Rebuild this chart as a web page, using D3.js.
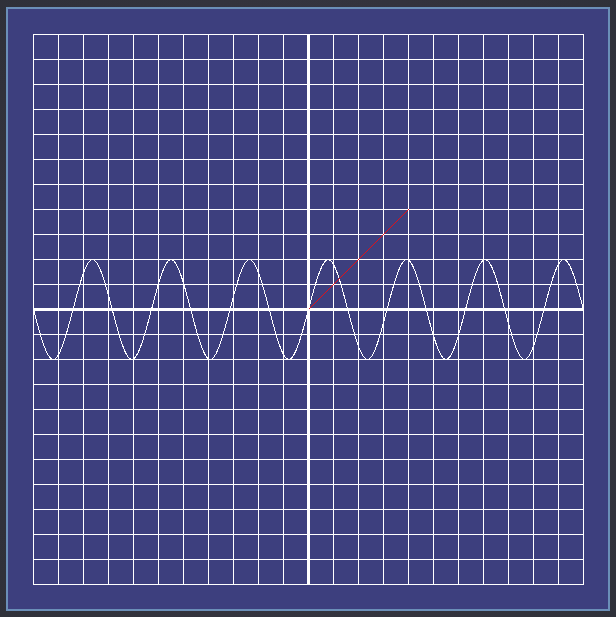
<!DOCTYPE html>
<html>
<head>
<meta charset="utf-8">
<script src="https://cdn.jsdelivr.net/npm/d3@7"></script>
<style>
html,body{margin:0;padding:0;background:#34343c;}
svg{display:block;}
</style>
</head>
<body>
<svg id="chart" width="616" height="617"></svg>
<script>
// Grid ticks (data units)
const gridTicks = d3.range(-11, 12);          // -11 .. 11
// Curve key points (zeros, peaks, troughs)
const curveX = [-11, -10.21, -9.42, -8.64, -7.85, -7.07, -6.28, -5.50, -4.71, -3.93, -3.14, -2.36, -1.57, -0.79,
                0, 0.79, 1.57, 2.36, 3.14, 3.93, 4.71, 5.50, 6.28, 7.07, 7.85, 8.64, 9.42, 10.21, 11];
const curveY = [0, -2, 0, 2, 0, -2, 0, 2, 0, -2, 0, 2, 0, -2,
                0, 2, 0, -2, 0, 2, 0, -2, 0, 2, 0, -2, 0, 2, 0];
// Red segment endpoints
const segX = [0, 4];
const segY = [0, 4];

const svg = d3.select("#chart");

// background
const defs = svg.append("defs");
const rg = defs.append("radialGradient").attr("id","bg").attr("cx","50%").attr("cy","50%").attr("r","75%");
rg.append("stop").attr("offset","0%").attr("stop-color","#3e3a48");
rg.append("stop").attr("offset","100%").attr("stop-color","#2e3038");
svg.append("rect").attr("width",616).attr("height",617).attr("fill","url(#bg)");

// panel
svg.append("rect").attr("x",7).attr("y",8).attr("width",602).attr("height",602)
  .attr("fill","#3d3f7e").attr("stroke","#6b8fb8").attr("stroke-width",2);

const x = d3.scaleLinear().domain([-11, 11]).range([33, 583]);
const y = d3.scaleLinear().domain([-11, 11]).range([584, 34]);

const g = svg.append("g").attr("shape-rendering","crispEdges");
// grid
g.selectAll("line.v").data(gridTicks).join("line").attr("class","v")
  .attr("x1", d => x(d) + 0.5).attr("x2", d => x(d) + 0.5)
  .attr("y1", y(11)).attr("y2", y(-11) + 1)
  .attr("stroke","#ffffff").attr("stroke-width",1);
g.selectAll("line.h").data(gridTicks).join("line").attr("class","h")
  .attr("y1", d => y(d) + 0.5).attr("y2", d => y(d) + 0.5)
  .attr("x1", x(-11)).attr("x2", x(11) + 1)
  .attr("stroke","#ffffff").attr("stroke-width",1);

// axes
g.append("line").attr("x1", x(0)+0.5).attr("x2", x(0)+0.5).attr("y1", y(11)).attr("y2", y(-11)+1)
  .attr("stroke","#ffffff").attr("stroke-width",3);
g.append("line").attr("y1", y(0)).attr("y2", y(0)).attr("x1", x(-11)).attr("x2", x(11)+1)
  .attr("stroke","#ffffff").attr("stroke-width",3);

// curve
const pts = curveX.map((v,i) => [v, curveY[i]]);
const line = d3.line().x(d => x(d[0]) + 0.5).y(d => y(d[1]) + 0.5).curve(d3.curveNatural);
svg.append("path").attr("d", line(pts)).attr("fill","none")
  .attr("shape-rendering","crispEdges")
  .attr("stroke","#ffffff").attr("stroke-width",1);

// red segment
svg.append("line").attr("x1", x(segX[0]) + 0.5).attr("y1", y(segY[0]) + 0.5)
  .attr("x2", x(segX[1]) + 0.5).attr("y2", y(segY[1]) + 0.5)
  .attr("shape-rendering","crispEdges")
  .attr("stroke","#e01018").attr("stroke-width",1);
</script>
</body>
</html>
